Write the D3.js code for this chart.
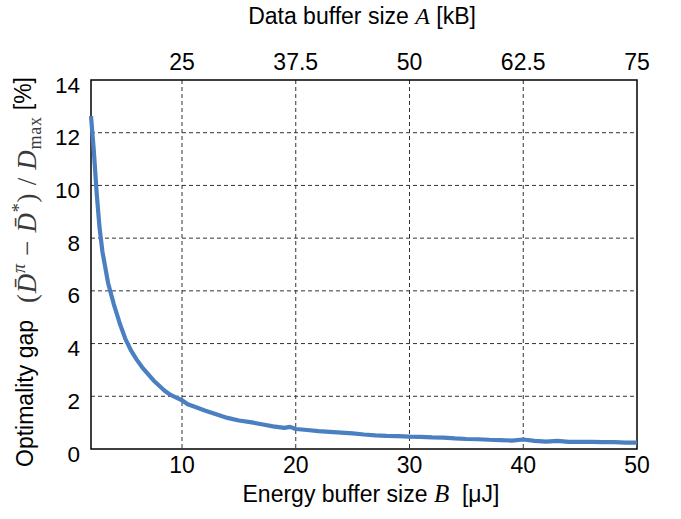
<!DOCTYPE html>
<html><head><meta charset="utf-8">
<script src="https://cdn.jsdelivr.net/npm/d3@7"></script>
<style>body{margin:0;background:#fff}svg{display:block}text{white-space:pre}</style>
</head><body>
<svg id="c" width="681" height="519"></svg>
<script>
const energyB = [2,2.25,2.5,2.75,3,3.5,4,4.5,5,5.5,6,6.5,7,7.5,8,8.5,9,9.5,10,10.5,11,12,13,14,15,16,17,18,19,19.5,20,21,22,23,24,25,26,27,28,29,30,31,32,33,34,35,36,37,38,39,40,41,42,43,44,45,46,47,48,49,50];
const gapValues = [12.63,11.3,9.7,8.4,7.5,6.3,5.5,4.8,4.2,3.75,3.4,3.1,2.85,2.6,2.4,2.2,2.05,1.95,1.85,1.7,1.62,1.46,1.32,1.18,1.08,1.02,0.94,0.86,0.8,0.84,0.76,0.72,0.68,0.65,0.62,0.59,0.55,0.52,0.5,0.49,0.47,0.46,0.44,0.43,0.4,0.38,0.37,0.35,0.34,0.32,0.36,0.31,0.28,0.31,0.27,0.27,0.27,0.26,0.26,0.24,0.24];
const bottomTicks = [10,20,30,40,50];
const topTickLabels = ["25","37.5","50","62.5","75"];
const yTicks = [0,2,4,6,8,10,12,14];

const svg = d3.select("#c");
const L=91, R=637, T=80, B=449;
const x = d3.scaleLinear().domain([2,50]).range([L,R]);
const y = d3.scaleLinear().domain([0,14]).range([B,T]);
const font = "Liberation Sans, Arial, sans-serif";
const serif = "Liberation Serif, serif";

// grid
const g = svg.append("g");
g.selectAll("line.v").data(bottomTicks.slice(0,4)).join("line")
  .attr("x1",d=>x(d)).attr("x2",d=>x(d)).attr("y1",T).attr("y2",B)
  .attr("stroke","#333").attr("stroke-width",1).attr("stroke-dasharray","4,3");
g.selectAll("line.h").data(yTicks.slice(1,7)).join("line")
  .attr("x1",L).attr("x2",R).attr("y1",d=>y(d)).attr("y2",d=>y(d))
  .attr("stroke","#333").attr("stroke-width",1).attr("stroke-dasharray","4,3");

// frame
svg.append("rect").attr("x",L).attr("y",T).attr("width",R-L).attr("height",B-T)
  .attr("fill","none").attr("stroke","#000").attr("stroke-width",1.5);

// tick labels
svg.append("g").selectAll("text").data(bottomTicks).join("text")
  .attr("x",d=>x(d)).attr("y",473).attr("text-anchor","middle")
  .attr("font-family",font).attr("font-size",23).text(d=>d);
svg.append("g").selectAll("text").data(bottomTicks).join("text")
  .attr("x",d=>x(d)).attr("y",70).attr("text-anchor","middle")
  .attr("font-family",font).attr("font-size",23).text((d,i)=>topTickLabels[i]);
svg.append("g").selectAll("text").data(yTicks).join("text")
  .attr("x",80).attr("y",d=>y(d)+12.5).attr("text-anchor","end")
  .attr("font-family",font).attr("font-size",22.5).text(d=>d);

// curve
const line = d3.line().x((d,i)=>x(energyB[i])).y(d=>y(d));
svg.append("path").datum(gapValues).attr("d",line).attr("fill","none")
  .attr("stroke","#4a7fc1").attr("stroke-width",4.2).attr("stroke-linejoin","round");

// x label
const xl = svg.append("text").attr("x",371).attr("y",502).attr("text-anchor","middle")
  .attr("font-family",font).attr("font-size",23);
xl.append("tspan").text("Energy buffer size ");
xl.append("tspan").attr("font-family",serif).attr("font-style","italic").attr("font-size",25).text("B");
xl.append("tspan").text("  [μJ]");

// top title
const tl = svg.append("text").attr("x",362).attr("y",24).attr("text-anchor","middle")
  .attr("font-family",font).attr("font-size",23);
tl.append("tspan").text("Data buffer size ");
tl.append("tspan").attr("font-family",serif).attr("font-style","italic").attr("font-size",24).text("A");
tl.append("tspan").text(" [kB]");

// y label (three pieces along the rotated axis)
svg.append("text").attr("transform","translate(33,467) rotate(-90)")
  .attr("font-family",font).attr("font-size",23).text("Optimality gap");
svg.append("text").attr("transform","translate(31,77) rotate(-90)")
  .attr("text-anchor","end").attr("font-family",font).attr("font-size",23).text("[%]");
const ym = svg.append("text").attr("transform","translate(36,303) rotate(-90)")
  .attr("font-family",serif).attr("font-size",27).attr("fill","#3a3a3a")
  .attr("textLength",186).attr("lengthAdjust","spacing");
ym.append("tspan").text("(");
ym.append("tspan").attr("font-style","italic").text("D\u0304");
ym.append("tspan").attr("font-style","italic").attr("font-size",18).attr("dy",-11).text("π");
ym.append("tspan").attr("dy",11).text(" − ");
ym.append("tspan").attr("font-style","italic").text("D\u0304");
ym.append("tspan").attr("font-size",18).attr("dy",-11).text("*");
ym.append("tspan").attr("dy",11).text(") / ");
ym.append("tspan").attr("font-style","italic").text("D");
ym.append("tspan").attr("font-size",18).attr("dy",5).text("max");
</script>
</body></html>
